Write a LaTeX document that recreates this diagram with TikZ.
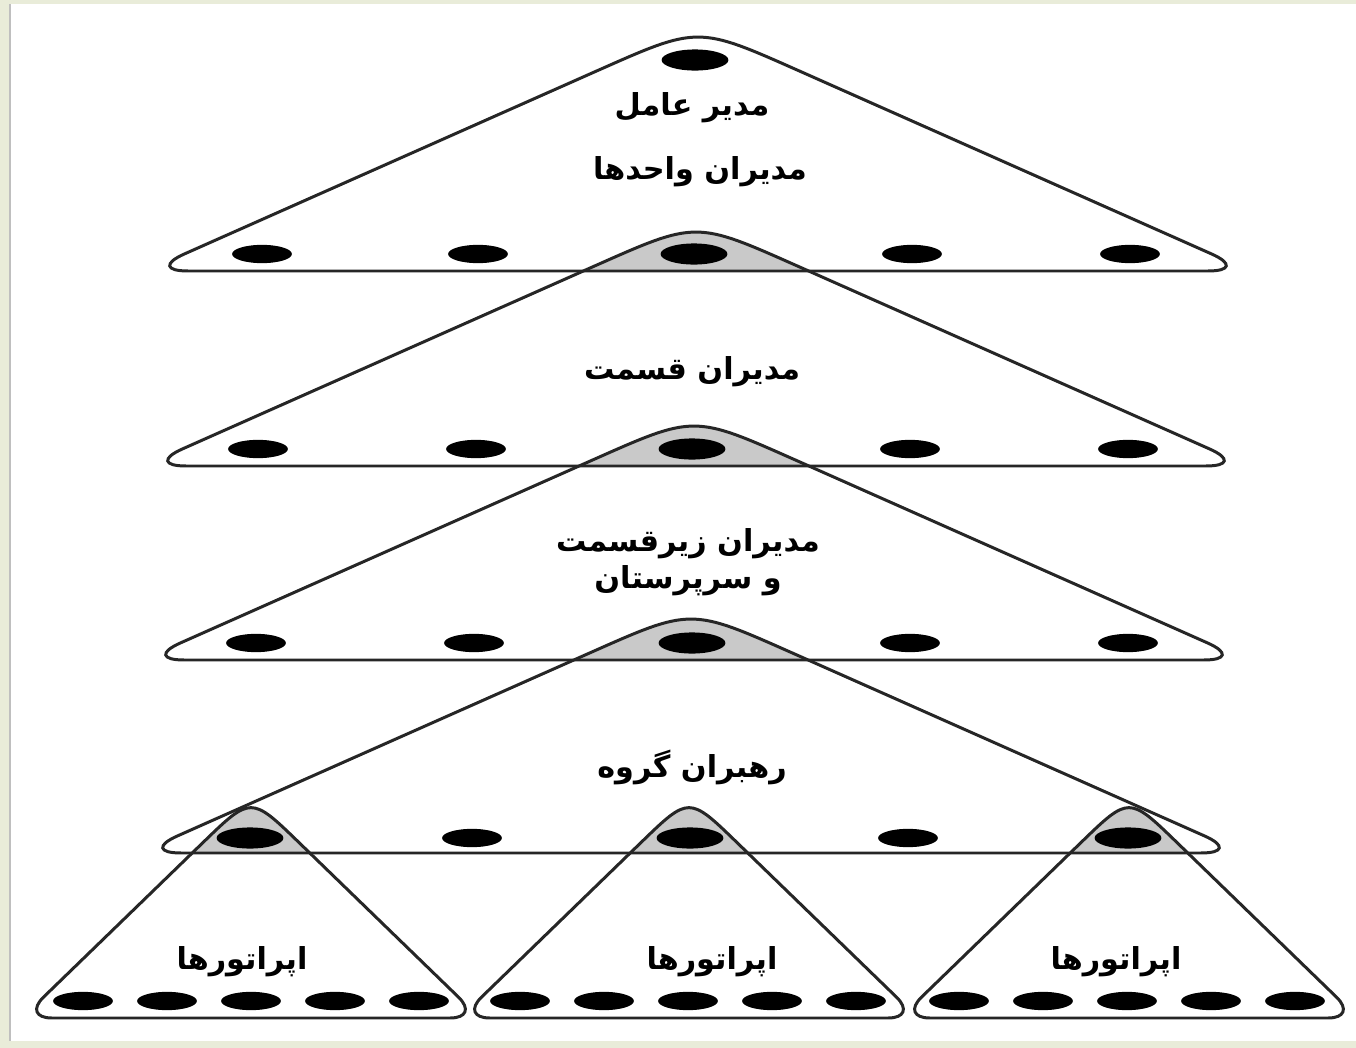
\documentclass[tikz,border=0pt]{standalone}
\usepackage{fontspec}
\usetikzlibrary{calc,shapes.geometric}
\newfontfamily\farsi[Script=Arabic]{DejaVu Sans}
\TeXXeTstate=1
\definecolor{slide}{HTML}{E9ECD9}
\definecolor{capfill}{HTML}{C9C9C9}
\tikzset{
  dot/.style={ellipse,fill=black,inner sep=0pt,minimum width=17pt,minimum height=5.2pt},
  bigdot/.style={dot,minimum width=19pt,minimum height=6pt},
  lbl/.style={font=\farsi\bfseries\fontsize{8.6}{10.5}\selectfont,align=center,inner sep=1pt},
  outline/.style={draw=black!85,line width=0.85pt},
}
% rounded triangle: centre x, apex y, base y, half width, apex radius, base radius
\newcommand\tripath[6]{($(#1-#4,#3)!0.5!(#1+#4,#3)$) -- ($(#1+#4,#3)!#6!(#1-#4,#3)$)
  .. controls ($(#1+#4,#3)!0.45*#6!(#1-#4,#3)$) and ($(#1+#4,#3)!0.45*#6!(#1,#2)$) .. ($(#1+#4,#3)!#6!(#1,#2)$)
  -- ($(#1,#2)!#5!(#1+#4,#3)$)
  .. controls (#1,#2) .. ($(#1,#2)!#5!(#1-#4,#3)$) -- ($(#1-#4,#3)!#6!(#1,#2)$)
  .. controls ($(#1-#4,#3)!0.45*#6!(#1,#2)$) and ($(#1-#4,#3)!0.45*#6!(#1+#4,#3)$) .. ($(#1-#4,#3)!#6!(#1+#4,#3)$) -- cycle}
\newcommand\layer[3]{\tripath{#1}{#2}{#3}{552}{31pt}{12pt}}
\newcommand\crew[1]{\tripath{#1}{796}{1018}{229}{19pt}{8.5pt}}

\begin{document}
\begin{tikzpicture}[x=0.01cm,y=-0.01cm]
\useasboundingbox (0,0) rectangle (1356,1048);
\fill[slide] (0,0) rectangle (1356,1048);
\fill[white] (10,4) rectangle (1356,1041);
\draw[black!25,line width=0.6pt] (10,4) -- (10,1041);

% shaded tops where one level overlaps the next
\begin{scope}
\clip (0,0) rectangle (1356,271);
\fill[capfill] \layer{696}{221}{466};
\end{scope}
\begin{scope}
\clip (0,0) rectangle (1356,466);
\fill[capfill] \layer{694}{415}{660};
\end{scope}
\begin{scope}
\clip (0,0) rectangle (1356,660);
\fill[capfill] \layer{691}{608}{853};
\end{scope}
\begin{scope}
\clip (0,0) rectangle (1356,853);
\fill[capfill] \crew{251};
\fill[capfill] \crew{689};
\fill[capfill] \crew{1129};
\end{scope}

% levels
\draw[outline] \layer{698}{26}{271};
\draw[outline] \layer{696}{221}{466};
\draw[outline] \layer{694}{415}{660};
\draw[outline] \layer{691}{608}{853};
\draw[outline] \crew{251};
\draw[outline] \crew{689};
\draw[outline] \crew{1129};

% people
\node[bigdot] (top) at (695,60) {};
\foreach \x/\s [count=\i] in {262/dot,478/dot,694/bigdot,912/dot,1130/dot}
  \node[\s] (a\i) at (\x,254) {};
\foreach \x/\s [count=\i] in {258/dot,476/dot,692/bigdot,910/dot,1128/dot}
  \node[\s] (b\i) at (\x,449) {};
\foreach \x/\s [count=\i] in {256/dot,474/dot,692/bigdot,910/dot,1128/dot}
  \node[\s] (c\i) at (\x,643) {};
\foreach \x/\s [count=\i] in {250/bigdot,472/dot,690/bigdot,908/dot,1128/bigdot}
  \node[\s] (d\i) at (\x,838) {};
\foreach \c [count=\j] in {251,688,1127}
  \foreach \k in {1,...,5}
    \node[dot] (e\j-\k) at (\c-252+84*\k,1001) {};

% labels
\node[lbl] (ceo) at (692,108) {\beginR مدیر عامل\endR};
\node[lbl] (units) at (700,172) {\beginR مدیران واحدها\endR};
\node[lbl] (sections) at (692,372) {\beginR مدیران قسمت\endR};
\node[lbl] (subsections) at (688,562) {\beginR مدیران زیرقسمت\endR\\\beginR و سرپرستان\endR};
\node[lbl] (leaders) at (692,767) {\beginR رهبران گروه\endR};
\node[lbl] (ops1) at (242,962) {\beginR اپراتورها\endR};
\node[lbl] (ops2) at (712,962) {\beginR اپراتورها\endR};
\node[lbl] (ops3) at (1116,962) {\beginR اپراتورها\endR};
\end{tikzpicture}
\end{document}
